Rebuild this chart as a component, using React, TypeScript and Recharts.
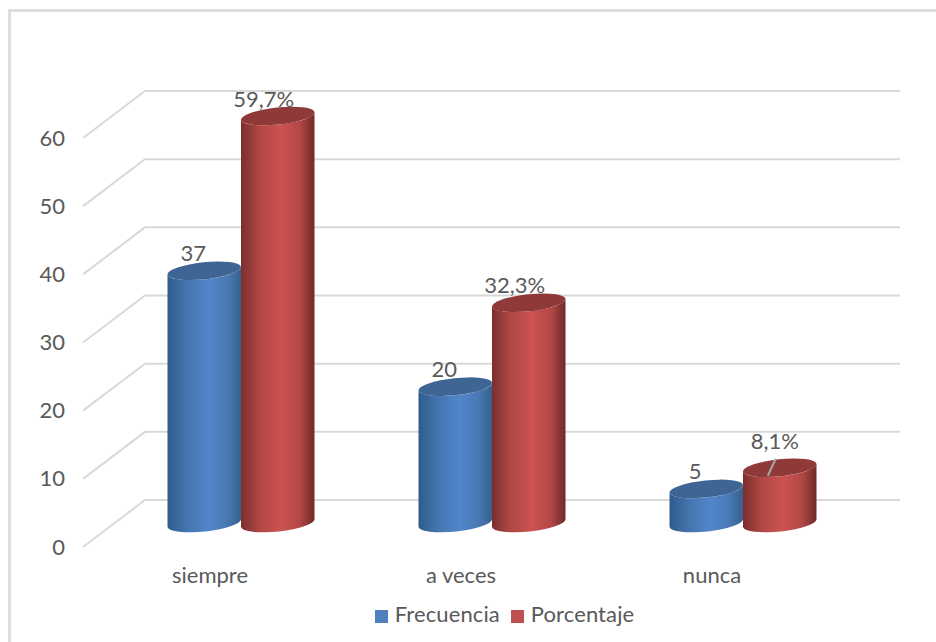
import { BarChart, Bar, XAxis, YAxis, Legend, LabelList, CartesianGrid } from "recharts";

const categories = ["siempre", "a veces", "nunca"];
const frecuencia = [37, 20, 5];
const porcentaje = [59.7, 32.3, 8.1];
const yTicks = [0, 10, 20, 30, 40, 50, 60];

const data = categories.map((name, i) => ({
  name,
  frecuencia: frecuencia[i],
  porcentaje: porcentaje[i],
}));

const FONT = "Lato, 'Open Sans', sans-serif";
const TEXT = "#595959";
const GRID = "#d9d9d9";

// the 3D look: the bars stand halfway between the back wall and the front edge of the floor
const TILT = 4;
const RY = 8.5;

function Cylinder(props: any) {
  const { x, y, width, height, gradient, cap } = props;
  const base = y + height;
  const rx = width / 2 / Math.cos((6 * Math.PI) / 180);
  const right = x + width;
  const body =
    `M${x} ${y + TILT} L${x} ${base + TILT} ` +
    `A${rx} ${RY} -6 0 0 ${right} ${base - TILT} ` +
    `L${right} ${y - TILT} ` +
    `A${rx} ${RY} -6 0 1 ${x} ${y + TILT} Z`;
  return (
    <g>
      <path d={body} fill={`url(#${gradient})`} />
      <ellipse cx={x + width / 2} cy={y} rx={rx} ry={RY} fill={cap} transform={`rotate(-6 ${x + width / 2} ${y})`} />
    </g>
  );
}

function gridLine(props: any) {
  const y = props.y1;
  return <polyline key={props.key ?? y} points={`83,${y + 24} 145,${y - 23} 900,${y - 23}`} fill="none" stroke={GRID} strokeWidth={2} />;
}

function YTick(props: any) {
  const { y, payload } = props;
  return (
    <text x={65} y={y + 23} textAnchor="end" dominantBaseline="central" fontFamily={FONT} fontSize={22} fill={TEXT}>
      {payload.value}
    </text>
  );
}

function XTick(props: any) {
  const { x, y, payload } = props;
  return (
    <text x={x - 31} y={y} textAnchor="middle" dominantBaseline="central" fontFamily={FONT} fontSize={22} fill={TEXT}>
      {payload.value}
    </text>
  );
}

function BarLabel(props: any) {
  const { x, y, width, value, percent } = props;
  const cx = x + width / 2;
  const text = percent ? `${String(value).replace(".", ",")}%` : value;
  // 8,1% sits higher with a leader line down to the cap
  if (value === 8.1) {
    return (
      <g>
        <line x1={cx - 4} y1={y - 9} x2={cx - 12} y2={y + 8} stroke="#a6a6a6" strokeWidth={2} />
        <text x={cx - 5} y={y - 27} textAnchor="middle" dominantBaseline="central" fontFamily={FONT} fontSize={22} fill={TEXT}>
          {text}
        </text>
      </g>
    );
  }
  return (
    <text x={cx - (percent ? 14 : 11)} y={y - 18} textAnchor="middle" dominantBaseline="central" fontFamily={FONT} fontSize={22} fill={TEXT}>
      {text}
    </text>
  );
}

export default function App() {
  return (
    <div style={{ position: "absolute", left: 0, top: 0, width: 936, height: 642, background: "#fff", overflow: "hidden" }}>
      <div style={{ position: "absolute", left: 8, top: 9, width: 928, height: 633, borderTop: "3px solid #dedede", borderLeft: "3px solid #dedede" }} />
      <div style={{ position: "absolute", left: 0, top: 0 }}>
        <BarChart width={936} height={642} data={data} barSize={73.5} barGap={0} margin={{ top: 114, right: 67.5, bottom: 62, left: 0 }}>
          <defs>
            <linearGradient id="blueCyl" x1="0" y1="0" x2="1" y2="0">
              <stop offset="0" stopColor="#2f5a8c" />
              <stop offset="0.25" stopColor="#4474ad" />
              <stop offset="0.55" stopColor="#5286ca" />
              <stop offset="0.8" stopColor="#4a7ab6" />
              <stop offset="1" stopColor="#36618f" />
            </linearGradient>
            <linearGradient id="redCyl" x1="0" y1="0" x2="1" y2="0">
              <stop offset="0" stopColor="#7a2f2d" />
              <stop offset="0.25" stopColor="#b04745" />
              <stop offset="0.55" stopColor="#cc5351" />
              <stop offset="0.8" stopColor="#b24846" />
              <stop offset="1" stopColor="#6f2a28" />
            </linearGradient>
          </defs>
          <CartesianGrid vertical={false} horizontal={gridLine} />
          <XAxis dataKey="name" axisLine={false} tickLine={false} tick={<XTick />} interval={0} tickMargin={45} />
          <YAxis domain={[0, 60]} ticks={yTicks} width={115.5} axisLine={false} tickLine={false} tick={<YTick />} />
          <Legend
            iconType="square"
            iconSize={13}
            layout="horizontal"
            wrapperStyle={{ left: 360, top: 600, width: 300, fontFamily: FONT, fontSize: 22 }}
            formatter={(value: string) => <span style={{ color: TEXT, marginLeft: 3, marginRight: 1, letterSpacing: 0.1 }}>{value}</span>}
          />
          <Bar dataKey="frecuencia" name="Frecuencia" fill="#4f81bd" isAnimationActive={false} shape={<Cylinder gradient="blueCyl" cap="#3e6594" />}>
            <LabelList dataKey="frecuencia" content={<BarLabel />} />
          </Bar>
          <Bar dataKey="porcentaje" name="Porcentaje" fill="#c0504d" isAnimationActive={false} shape={<Cylinder gradient="redCyl" cap="#8f3a38" />}>
            <LabelList dataKey="porcentaje" content={<BarLabel percent />} />
          </Bar>
        </BarChart>
      </div>
    </div>
  );
}
